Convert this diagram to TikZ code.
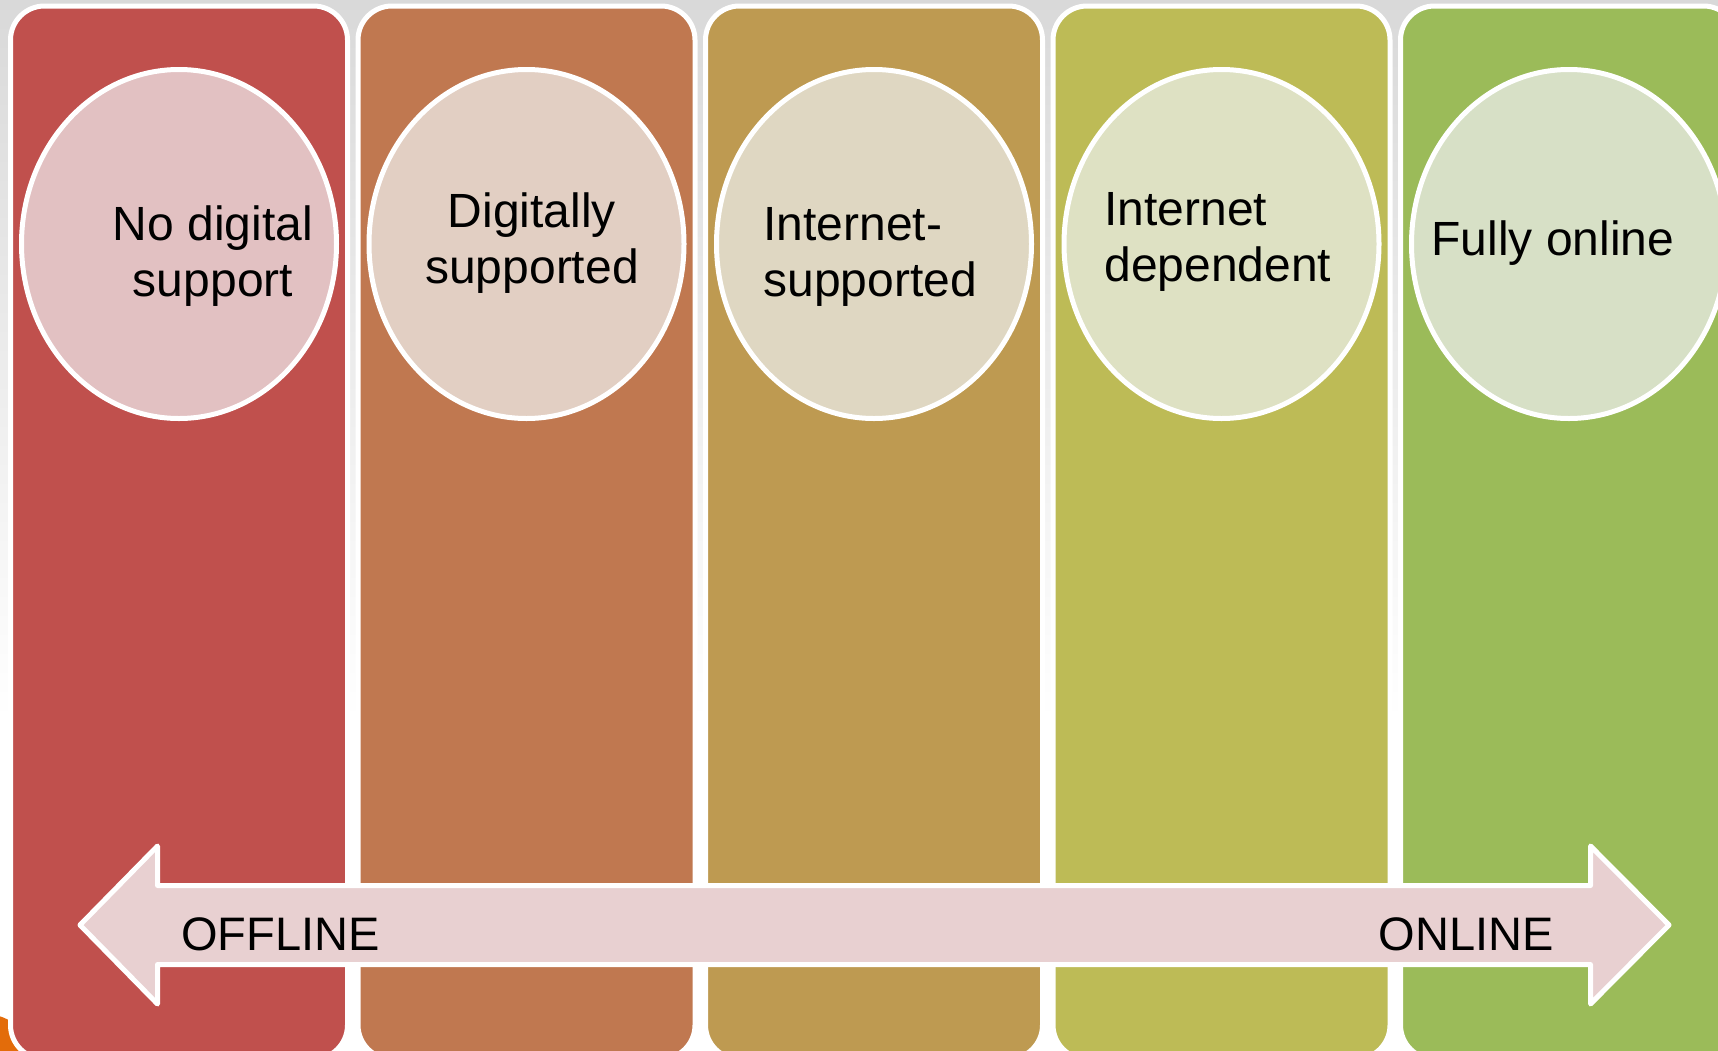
\documentclass[tikz,border=0pt]{standalone}
\usepackage{fontspec}
\setmainfont{Liberation Sans}
\usetikzlibrary{shapes.geometric}

\definecolor{bgtop}{HTML}{D9D9D9}
\definecolor{blob}{HTML}{E36C0A}
\definecolor{colA}{HTML}{C0504D}
\definecolor{colB}{HTML}{C07850}
\definecolor{colC}{HTML}{BE9A51}
\definecolor{colD}{HTML}{BDBB56}
\definecolor{colE}{HTML}{9BBB59}
\definecolor{bubA}{HTML}{E2C1C2}
\definecolor{bubB}{HTML}{E2CFC3}
\definecolor{bubC}{HTML}{DFD7C2}
\definecolor{bubD}{HTML}{DEE1C3}
\definecolor{bubE}{HTML}{D7E0C6}
\definecolor{arrowfill}{HTML}{E8D0D1}

\tikzset{
  stage/.style={rectangle, draw=white, line width=2.5pt, rounded corners=17pt,
    minimum width=168.5pt, minimum height=526.5pt, inner sep=0pt},
  bubble/.style={ellipse, draw=white, line width=2.5pt,
    minimum width=157.5pt, minimum height=174.5pt, inner sep=0pt},
  lbl/.style={inner sep=0pt, text=black, font=\fontsize{24}{28}\selectfont},
  endlbl/.style={inner sep=0pt, text=black, font=\fontsize{23.5}{28}\selectfont},
}

\begin{document}
\begin{tikzpicture}[x=0.5pt, y=-0.5pt]
\useasboundingbox (0,0) rectangle (1718,1050);
\clip (0,0) rectangle (1718,1050);

% backdrop: grey fading to white
\fill[white] (0,0) rectangle (1718,1050);
\shade[top color=bgtop, bottom color=white] (0,0) rectangle (1718,720);
\fill[blob] (-20,1075) circle [radius=62];

% five stage columns
\node[stage, fill=colA] (s1) at (179,532.5) {};
\node[stage, fill=colB] (s2) at (526.5,532.5) {};
\node[stage, fill=colC] (s3) at (874,532.5) {};
\node[stage, fill=colD] (s4) at (1221.5,532.5) {};
\node[stage, fill=colE] (s5) at (1569,532.5) {};

% bubbles
\node[bubble, fill=bubA] (b1) at (179,244) {};
\node[bubble, fill=bubB] (b2) at (526.5,244) {};
\node[bubble, fill=bubC] (b3) at (874,244) {};
\node[bubble, fill=bubD] (b4) at (1221.5,244) {};
\node[bubble, fill=bubE] (b5) at (1569,244) {};

% stage names (base anchor sits on the last line)
\node[lbl, align=center, anchor=base] (t1) at (213,296) {No digital\\support};
\node[lbl, align=center, anchor=base] (t2) at (532,283) {Digitally\\supported};
\node[lbl, align=left, anchor=base west] (t3) at (763,296) {Internet-\\supported};
\node[lbl, align=left, anchor=base west] (t4) at (1104,281) {Internet\\dependent};
\node[lbl, anchor=base west] (t5) at (1431,255) {Fully online};

% offline <-> online double arrow
\filldraw[fill=arrowfill, draw=white, line width=2.5pt, line join=round]
  (80,925) -- (157.5,846) -- (157.5,885.5) -- (1590.5,885.5) -- (1590.5,846)
  -- (1669,925) -- (1590.5,1004) -- (1590.5,964.5) -- (157.5,964.5)
  -- (157.5,1004) -- cycle;

\node[endlbl, anchor=base west] (off) at (181,950) {OFFLINE};
\node[endlbl, anchor=base east] (on) at (1554,950) {ONLINE};
\end{tikzpicture}
\end{document}
